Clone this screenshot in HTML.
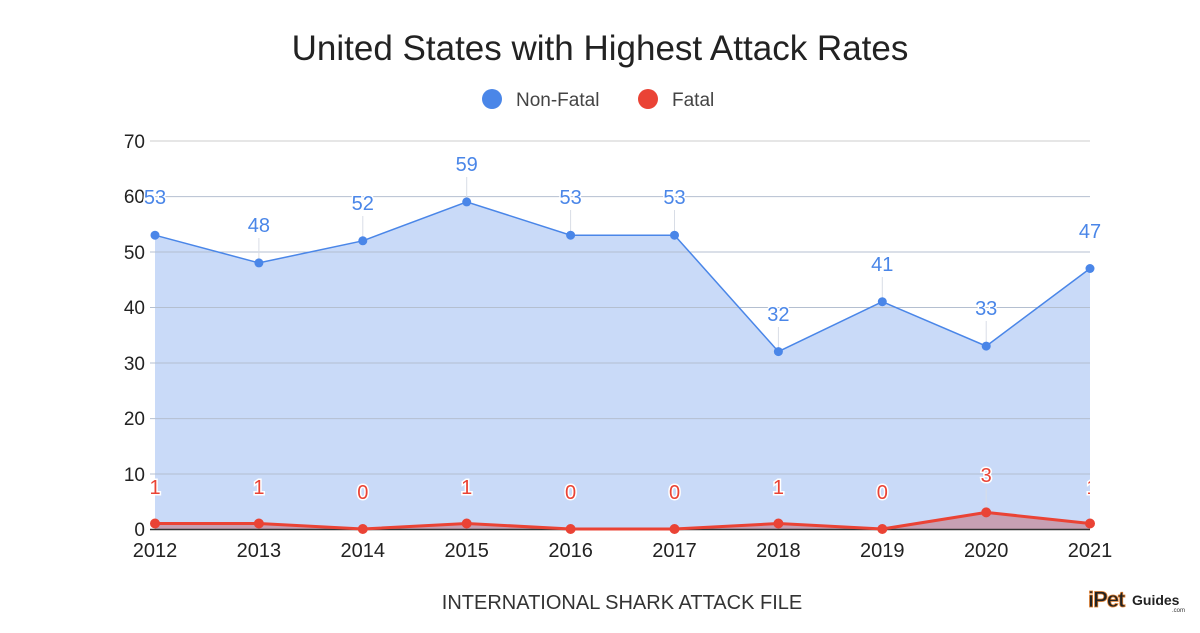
<!DOCTYPE html>
<html><head><meta charset="utf-8"><style>
body{margin:0;background:#fff;}
svg text{font-family:"Liberation Sans",Arial,sans-serif;}
</style></head><body>
<svg width="1200" height="628" viewBox="0 0 1200 628" xmlns="http://www.w3.org/2000/svg">
<defs><clipPath id="c"><rect x="0" y="0" width="1090" height="628"/></clipPath></defs>
<rect width="1200" height="628" fill="#fff"/>
<text x="600" y="60" font-size="35" text-anchor="middle" fill="#222">United States with Highest Attack Rates</text>
<circle cx="492" cy="99" r="10" fill="#4a86e8"/>
<text x="516" y="106" font-size="19" fill="#444">Non-Fatal</text>
<circle cx="648" cy="99" r="10" fill="#ea4335"/>
<text x="672" y="106" font-size="19" fill="#444">Fatal</text>
<polygon points="155,529 155,235.2 258.9,262.9 362.8,240.8 466.7,201.9 570.6,235.2 674.5,235.2 778.4,351.6 882.3,301.7 986.2,346.1 1090,268.5 1090,529" fill="#c9daf8"/>
<g stroke="#b4bfd0" stroke-width="1">
<line x1="150" y1="141" x2="1090" y2="141" stroke="#ccc"/>
<line x1="150" y1="196.6" x2="1090" y2="196.6"/>
<line x1="150" y1="252" x2="1090" y2="252"/>
<line x1="150" y1="307.5" x2="1090" y2="307.5"/>
<line x1="150" y1="363" x2="1090" y2="363"/>
<line x1="150" y1="418.6" x2="1090" y2="418.6"/>
<line x1="150" y1="474" x2="1090" y2="474"/>
</g>
<g stroke="#d8dde6" stroke-width="1">
<line x1="258.9" y1="238" x2="258.9" y2="262"/><line x1="362.8" y1="216" x2="362.8" y2="240"/>
<line x1="466.7" y1="177" x2="466.7" y2="201"/><line x1="570.6" y1="210" x2="570.6" y2="235"/>
<line x1="674.5" y1="210" x2="674.5" y2="235"/><line x1="778.4" y1="327" x2="778.4" y2="351"/>
<line x1="882.3" y1="277" x2="882.3" y2="301"/><line x1="986.2" y1="321" x2="986.2" y2="346"/>
<line x1="986.2" y1="488" x2="986.2" y2="512"/>
</g>
<polygon points="155,529 155,523.5 258.9,523.5 362.8,529 466.7,523.5 570.6,529 674.5,529 778.4,523.5 882.3,529 986.2,512.4 1090,523.5 1090,529" fill="#c7a0b3"/>
<line x1="150" y1="529.5" x2="1090" y2="529.5" stroke="#333" stroke-width="1.5"/>
<g font-size="19" fill="#222" text-anchor="end">
<text x="145" y="148">70</text><text x="145" y="203">60</text><text x="145" y="259">50</text>
<text x="145" y="314">40</text><text x="145" y="370">30</text><text x="145" y="425">20</text>
<text x="145" y="481">10</text><text x="145" y="536">0</text>
</g>
<g font-size="20" fill="#222" text-anchor="middle">
<text x="155" y="557">2012</text><text x="258.9" y="557">2013</text><text x="362.8" y="557">2014</text>
<text x="466.7" y="557">2015</text><text x="570.6" y="557">2016</text><text x="674.5" y="557">2017</text>
<text x="778.4" y="557">2018</text><text x="882.3" y="557">2019</text><text x="986.2" y="557">2020</text>
<text x="1090" y="557">2021</text>
</g>
<polyline points="155,235.2 258.9,262.9 362.8,240.8 466.7,201.9 570.6,235.2 674.5,235.2 778.4,351.6 882.3,301.7 986.2,346.1 1090,268.5" fill="none" stroke="#4a86e8" stroke-width="1.5"/>
<g fill="#4a86e8">
<circle cx="155" cy="235.2" r="4.5"/><circle cx="258.9" cy="262.9" r="4.5"/><circle cx="362.8" cy="240.8" r="4.5"/>
<circle cx="466.7" cy="201.9" r="4.5"/><circle cx="570.6" cy="235.2" r="4.5"/><circle cx="674.5" cy="235.2" r="4.5"/>
<circle cx="778.4" cy="351.6" r="4.5"/><circle cx="882.3" cy="301.7" r="4.5"/><circle cx="986.2" cy="346.1" r="4.5"/>
<circle cx="1090" cy="268.5" r="4.5"/>
</g>
<g font-size="20" fill="#4a86e8" text-anchor="middle" stroke="#fff" stroke-width="3" paint-order="stroke">
<text x="155" y="204">53</text><text x="258.9" y="232">48</text><text x="362.8" y="210">52</text>
<text x="466.7" y="171">59</text><text x="570.6" y="204">53</text><text x="674.5" y="204">53</text>
<text x="778.4" y="321">32</text><text x="882.3" y="271">41</text><text x="986.2" y="315">33</text>
<text x="1090" y="238">47</text>
</g>
<polyline points="155,523.5 258.9,523.5 362.8,529 466.7,523.5 570.6,529 674.5,529 778.4,523.5 882.3,529 986.2,512.4 1090,523.5" fill="none" stroke="#ea4335" stroke-width="3"/>
<g fill="#ea4335">
<circle cx="155" cy="523.5" r="5"/><circle cx="258.9" cy="523.5" r="5"/><circle cx="362.8" cy="529" r="5"/>
<circle cx="466.7" cy="523.5" r="5"/><circle cx="570.6" cy="529" r="5"/><circle cx="674.5" cy="529" r="5"/>
<circle cx="778.4" cy="523.5" r="5"/><circle cx="882.3" cy="529" r="5"/><circle cx="986.2" cy="512.4" r="5"/>
<circle cx="1090" cy="523.5" r="5"/>
</g>
<g font-size="20" fill="#ea4335" text-anchor="middle" stroke="#fff" stroke-width="3" paint-order="stroke">
<text x="155" y="494">1</text><text x="258.9" y="494">1</text><text x="362.8" y="499">0</text>
<text x="466.7" y="494">1</text><text x="570.6" y="499">0</text><text x="674.5" y="499">0</text>
<text x="778.4" y="494">1</text><text x="882.3" y="499">0</text><text x="986.2" y="482">3</text>
<text x="1092" y="494" clip-path="url(#c)">1</text>
</g>
<text x="622" y="609" font-size="20" fill="#333" text-anchor="middle">INTERNATIONAL SHARK ATTACK FILE</text>
<text x="1088" y="607" font-size="22" font-weight="bold" fill="#222" stroke="#d97a2b" stroke-width="0.8" letter-spacing="-1">iPet</text>
<text x="1132" y="605" font-size="14" font-weight="bold" fill="#222">Guides</text>
<text x="1172" y="612" font-size="6" fill="#333">.com</text>
</svg>
</body></html>
